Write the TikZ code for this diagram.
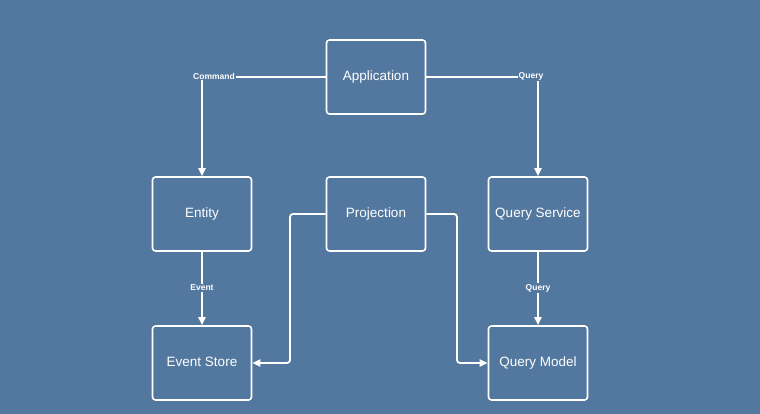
\documentclass[tikz,border=0pt]{standalone}
\usepackage{fontspec}
\setmainfont{Liberation Sans}
\usetikzlibrary{arrows.meta}
\definecolor{bg}{HTML}{53789F}
\begin{document}
\begin{tikzpicture}[x=1pt,y=-1pt,
  box/.style={draw=white,line width=1.6pt,rounded corners=3pt,minimum width=99pt,minimum height=74pt,inner sep=0pt,text=white,font=\fontsize{13.5}{15}\selectfont},
  conn/.style={draw=white,line width=1.8pt,-{Triangle[width=7pt,length=8pt]},rounded corners=3pt},
  plain/.style={draw=white,line width=1.8pt},
  lbl/.style={text=white,font=\bfseries\fontsize{8.5}{10}\selectfont,inner sep=1pt,fill=bg}]
\fill[bg] (0,0) rectangle (760,414);
\useasboundingbox (0,0) rectangle (760,414);
\node[box] (app) at (376,77) {\raisebox{3pt}{Application}};
\node[box] (ent) at (202,214) {\raisebox{3pt}{Entity}};
\node[box] (proj) at (376,214) {\raisebox{3pt}{Projection}};
\node[box] (qs) at (538,214) {\raisebox{3pt}{Query Service}};
\node[box] (es) at (202,363) {\raisebox{3pt}{Event Store}};
\node[box] (qm) at (538,363) {\raisebox{3pt}{Query Model}};
\node[lbl] (lcmd) at (214,76) {Command};
\node[lbl] (lq) at (531,76) {Query};
\node[lbl] (lev) at (202,288) {Event};
\node[lbl] (lq2) at (538,288) {Query};
\draw[plain] (app.west) -- (lcmd.east |- app.west);
\draw[conn] (lcmd.south -| ent.north) -- (ent.north);
\draw[plain] (app.east) -- (lq.west |- app.east);
\draw[conn] (lq.south -| qs.north) -- (qs.north);
\draw[plain] (ent.south) -- (lev.north);
\draw[conn] (lev.south) -- (es.north);
\draw[plain] (qs.south) -- (lq2.north);
\draw[conn] (lq2.south) -- (qm.north);
\coordinate (pl) at (290,214);
\coordinate (pr) at (457,214);
\draw[conn] (proj.west) -- (pl) -- (pl |- es.east) -- (es.east);
\draw[conn] (proj.east) -- (pr) -- (pr |- qm.west) -- (qm.west);
\end{tikzpicture}
\end{document}
